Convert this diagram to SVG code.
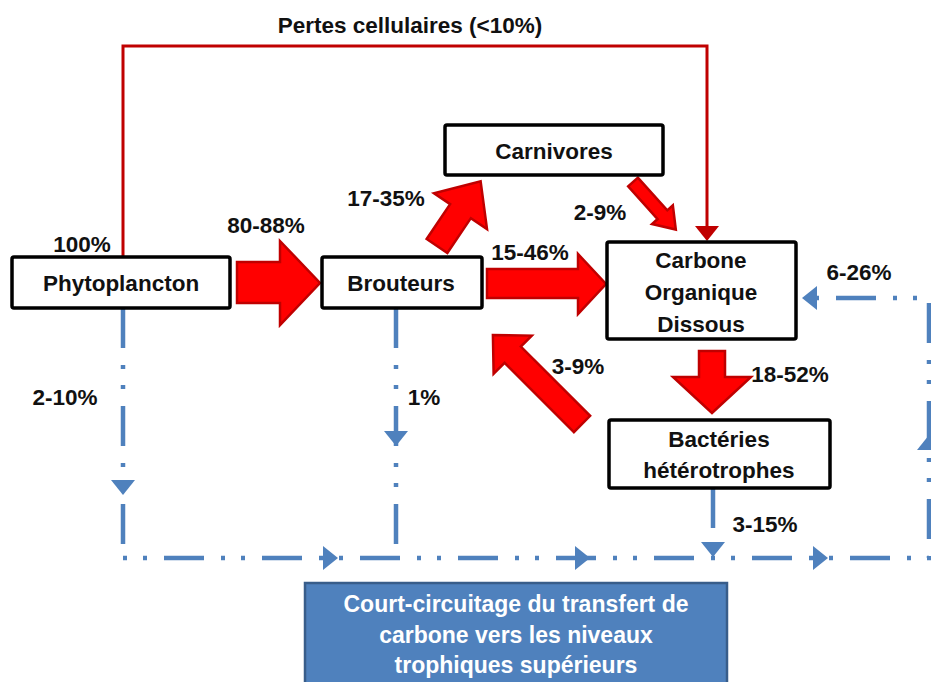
<svg xmlns="http://www.w3.org/2000/svg" width="931" height="682" viewBox="0 0 931 682">
<defs>
<style>
text{font-family:"Liberation Sans",Arial,sans-serif;font-weight:bold;font-size:22.5px;fill:#111;text-anchor:middle}
.box{fill:#fff;stroke:#000;stroke-width:3.5}
.blk{fill:#ff0000;stroke:#c00000;stroke-width:2.5;stroke-linejoin:miter}
.red{fill:none;stroke:#c00000;stroke-width:3}
.dd{fill:none;stroke:#4f81bd;stroke-width:4.5;stroke-dasharray:40 17 4 16 4 17}
.tri{fill:#4f81bd}
.wt{fill:#fff}
</style>
<marker id="redHead" markerUnits="userSpaceOnUse" markerWidth="15" markerHeight="24" refX="2" refY="12" orient="auto" viewBox="0 0 15 24">
<path d="M0,0 L15,12 L0,24 Z" fill="#c00000"/>
</marker>
<path id="btri" d="M0,0 L-15,-12 L-15,12 Z"/>
</defs>

<g id="connectors">
<path class="red" d="M123,257 V46 H707 V228" marker-end="url(#redHead)"/>
<polygon class="blk" points="237,262 280,262 280,241 320,283 280,325 280,303 237,303"/>
<polygon class="blk" points="487,269 578,269 578,254 606,284 578,314 578,298 487,298"/>
<polygon class="blk" points="0,-12.5 42,-12.5 42,-32 78,0 42,32 42,12.5 0,12.5" transform="translate(437,246) rotate(-56)"/>
<polygon class="blk" points="0,-6.5 44,-6.5 44,-14 64,0 44,14 44,6.5 0,6.5" transform="translate(633,182) rotate(48)"/>
<polygon class="blk" points="699,351 725,351 725,377 751,377 712,413 673,377 699,377"/>
<polygon class="blk" points="0,-11.5 98,-11.5 98,-27 126,0 98,27 98,11.5 0,11.5" transform="translate(582,424) rotate(-135)"/>

<path class="dd" d="M123,308 V558"/>
<path class="dd" d="M396,308 V558"/>
<path class="dd" d="M713,488 V558"/>
<path class="dd" style="stroke-dashoffset:57" d="M123,558 H929 V298 H817"/>

<use href="#btri" class="tri" transform="translate(123,495) rotate(90)"/>
<use href="#btri" class="tri" transform="translate(396,446) rotate(90)"/>
<use href="#btri" class="tri" transform="translate(713,557) rotate(90)"/>
<use href="#btri" class="tri" transform="translate(338,558)"/>
<use href="#btri" class="tri" transform="translate(590,558)"/>
<use href="#btri" class="tri" transform="translate(828,558)"/>
<use href="#btri" class="tri" transform="translate(929,435) rotate(-90)"/>
<use href="#btri" class="tri" transform="translate(802,298) rotate(180)"/>
</g>

<g id="labels">
<text x="410" y="33">Pertes cellulaires (&lt;10%)</text>
<text x="82" y="252">100%</text>
<text x="266" y="233">80-88%</text>
<text x="386" y="206">17-35%</text>
<text x="530" y="260">15-46%</text>
<text x="600" y="220">2-9%</text>
<text x="859" y="280">6-26%</text>
<text x="790" y="382">18-52%</text>
<text x="578" y="374">3-9%</text>
<text x="65" y="405">2-10%</text>
<text x="424" y="405">1%</text>
<text x="765" y="532">3-15%</text>
</g>

<g id="phytoplancton">
<rect class="box" x="12" y="257" width="218" height="51" rx="2"/>
<text x="121" y="291">Phytoplancton</text>
</g>
<g id="brouteurs">
<rect class="box" x="322" y="257" width="160" height="51" rx="2"/>
<text x="401" y="291">Brouteurs</text>
</g>
<g id="carnivores">
<rect class="box" x="445" y="125" width="218" height="50" rx="2"/>
<text x="554" y="159">Carnivores</text>
</g>
<g id="cod">
<rect class="box" x="607" y="242" width="189" height="97" rx="2"/>
<text x="701" y="268">Carbone</text>
<text x="701" y="300">Organique</text>
<text x="701" y="332">Dissous</text>
</g>
<g id="bacteries">
<rect class="box" x="609" y="420" width="221" height="68" rx="2"/>
<text x="719" y="447">Bactéries</text>
<text x="719" y="478">hétérotrophes</text>
</g>
<g id="court-circuitage">
<rect x="305" y="583" width="422" height="110" fill="#4f81bd" stroke="#385d8a" stroke-width="2.5"/>
<text class="wt" x="516" y="612" style="font-size:23px">Court-circuitage du transfert de</text>
<text class="wt" x="516" y="643" style="font-size:23px">carbone vers les niveaux</text>
<text class="wt" x="516" y="673" style="font-size:23px">trophiques supérieurs</text>
</g>
</svg>
